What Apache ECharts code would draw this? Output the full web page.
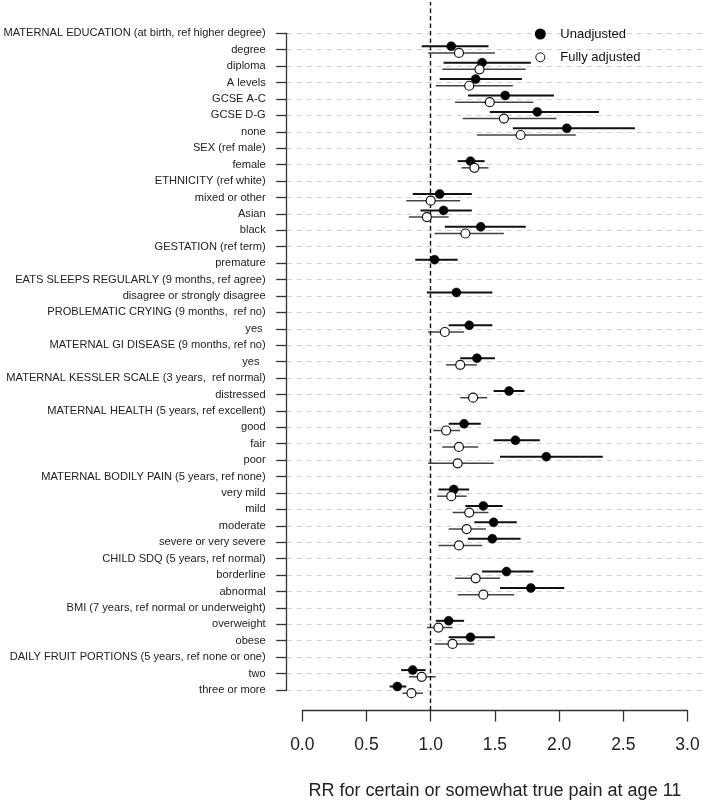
<!DOCTYPE html>
<html>
<head>
<meta charset="utf-8">
<script src="https://cdn.jsdelivr.net/npm/echarts@6/dist/echarts.min.js"></script>
<style>
html,body{margin:0;padding:0;background:#fff;}
#chart{width:703px;height:805px;}
</style>
</head>
<body>
<div id="chart"></div>
<script>
var categories = [
  'MATERNAL EDUCATION (at birth, ref higher degree)',
  'degree','diploma','A levels','GCSE A-C','GCSE D-G','none',
  'SEX (ref male)','female',
  'ETHNICITY (ref white)','mixed or other','Asian','black',
  'GESTATION (ref term)','premature',
  'EATS SLEEPS REGULARLY (9 months, ref agree)','disagree or strongly disagree',
  'PROBLEMATIC CRYING (9 months,  ref no)','yes ',
  'MATERNAL GI DISEASE (9 months, ref no)','yes  ',
  'MATERNAL KESSLER SCALE (3 years,  ref normal)','distressed',
  'MATERNAL HEALTH (5 years, ref excellent)','good','fair','poor',
  'MATERNAL BODILY PAIN (5 years, ref none)','very mild','mild','moderate','severe or very severe',
  'CHILD SDQ (5 years, ref normal)','borderline','abnormal',
  'BMI (7 years, ref normal or underweight)','overweight','obese',
  'DAILY FRUIT PORTIONS (5 years, ref none or one)','two','three or more'
];
// Unadjusted RR and CI (null = header row / no estimate)
var unadjRR = [null,1.16,1.40,1.35,1.58,1.83,2.06,null,1.31,null,1.07,1.10,1.39,null,1.03,null,1.20,null,1.30,null,1.36,null,1.61,null,1.26,1.66,1.90,null,1.18,1.41,1.49,1.48,null,1.59,1.78,null,1.14,1.31,null,0.86,0.74];
var unadjLo = [null,0.93,1.10,1.07,1.29,1.46,1.64,null,1.21,null,0.86,0.92,1.11,null,0.88,null,0.97,null,1.14,null,1.23,null,1.49,null,1.14,1.49,1.54,null,1.06,1.27,1.34,1.29,null,1.40,1.54,null,1.04,1.14,null,0.77,0.68];
var unadjHi = [null,1.45,1.78,1.71,1.96,2.31,2.59,null,1.42,null,1.32,1.32,1.74,null,1.21,null,1.48,null,1.48,null,1.50,null,1.73,null,1.39,1.85,2.34,null,1.30,1.56,1.67,1.70,null,1.80,2.04,null,1.26,1.50,null,0.96,0.81];
// Fully adjusted RR and CI
var adjRR = [null,1.22,1.38,1.30,1.46,1.57,1.70,null,1.34,null,1.00,0.97,1.27,null,null,null,null,null,1.11,null,1.23,null,1.33,null,1.12,1.22,1.21,null,1.16,1.30,1.28,1.22,null,1.35,1.41,null,1.06,1.17,null,0.93,0.85];
var adjLo = [null,0.98,1.09,1.04,1.19,1.25,1.36,null,1.24,null,0.81,0.83,1.03,null,null,null,null,null,0.98,null,1.12,null,1.23,null,1.02,1.09,0.98,null,1.05,1.17,1.14,1.06,null,1.19,1.21,null,0.97,1.03,null,0.83,0.78];
var adjHi = [null,1.50,1.74,1.64,1.80,1.98,2.13,null,1.45,null,1.23,1.14,1.57,null,null,null,null,null,1.26,null,1.36,null,1.44,null,1.23,1.37,1.49,null,1.28,1.45,1.43,1.40,null,1.54,1.65,null,1.17,1.34,null,1.04,0.94];
var xTicks = [0, 0.5, 1, 1.5, 2, 2.5, 3];
var refValue = 1;

function pts(rr){ return rr.map(function(v,i){ return v==null ? null : [v, i]; }).filter(Boolean); }
function cis(lo,hi){ var out=[]; lo.forEach(function(v,i){ if(v!=null) out.push([v,hi[i],i]); }); return out; }

var OFF_U = -3.5, OFF_A = 3.2;
function ciRender(off, color, width){
  return function(params, api){
    var y = api.value(2);
    var p1 = api.coord([api.value(0), y]);
    var p2 = api.coord([api.value(1), y]);
    return {type:'line', shape:{x1:p1[0], y1:p1[1]+off, x2:p2[0], y2:p2[1]+off},
      style:{stroke:color, lineWidth:width}};
  };
}

var font = 'Liberation Sans, Arial, Helvetica, sans-serif';
var chart = echarts.init(document.getElementById('chart'), null, {renderer:'canvas'});
var xMin = (286.7-302.3)/128.4, xMax = (703-302.3)/128.4;
chart.setOption({
  animation:false,
  backgroundColor:'#fff',
  textStyle:{fontFamily:font},
  grid:[
    {left:286.7, right:0, top:33.3, bottom:115, containLabel:false},
    {left:302.3, width:385.2, top:2, bottom:92.3, containLabel:false}
  ],
  legend:{
    orient:'vertical', left:534.8, top:27.5, padding:0, itemWidth:9, itemHeight:9, itemGap:10.3,
    icon:'circle',
    textStyle:{fontSize:13, color:'#111', fontFamily:font, padding:[0,0,0,10.5]},
    data:[{name:'Unadjusted'}, {name:'Fully adjusted', itemStyle:{color:'#fff', borderColor:'#111', borderWidth:1}}]
  },
  xAxis:[
    {type:'value', gridIndex:0, min:xMin, max:xMax, show:false, splitLine:{show:false}},
    {type:'value', gridIndex:1, min:0, max:3, interval:0.5,
     axisLine:{show:true, onZero:false, lineStyle:{color:'#333', width:1.3}},
     axisTick:{show:true, length:11, inside:false, lineStyle:{color:'#333', width:1.3}},
     axisLabel:{margin:26, fontSize:17.5, color:'#222', fontFamily:font,
       formatter:function(v){ return v.toFixed(1); }},
     splitLine:{show:false},
     name:'RR for certain or somewhat true pain at age 11', nameLocation:'middle', nameGap:71.5,
     nameTextStyle:{fontSize:18, color:'#222', fontFamily:font}}
  ],
  yAxis:[
    {type:'category', gridIndex:0, data:categories, inverse:true, boundaryGap:false,
     axisLine:{show:true, onZero:false, lineStyle:{color:'#333', width:1.3}},
     axisTick:{show:true, length:10.5, alignWithLabel:true, interval:0, lineStyle:{color:'#333', width:1.3}},
     axisLabel:{interval:0, margin:21, fontSize:11.1, color:'#222', fontFamily:font},
     splitLine:{show:true, interval:0, lineStyle:{color:'#d0d0d0', type:[5,5], width:1}}},
    {type:'value', gridIndex:1, min:0, max:1, show:false}
  ],
  series:[
    {name:'refline', type:'line', xAxisIndex:1, yAxisIndex:1, data:[], silent:true,
     markLine:{symbol:'none', silent:true, label:{show:false},
       lineStyle:{color:'#111', type:[4.5,3], width:1.4},
       data:[{xAxis:refValue}]}},
    {name:'ciU', type:'custom', xAxisIndex:0, yAxisIndex:0, data:cis(unadjLo,unadjHi),
     renderItem:ciRender(OFF_U,'#111',2), silent:true, z:3},
    {name:'ciA', type:'custom', xAxisIndex:0, yAxisIndex:0, data:cis(adjLo,adjHi),
     renderItem:ciRender(OFF_A,'#444',1.5), silent:true, z:3},
    {name:'Unadjusted', type:'scatter', xAxisIndex:0, yAxisIndex:0, data:pts(unadjRR),
     symbol:'circle', symbolSize:9, symbolOffset:[0,OFF_U],
     itemStyle:{color:'#000', borderColor:'#000', borderWidth:0.5, opacity:1}, z:5},
    {name:'Fully adjusted', type:'scatter', xAxisIndex:0, yAxisIndex:0, data:pts(adjRR),
     symbol:'circle', symbolSize:9, symbolOffset:[0,OFF_A],
     itemStyle:{color:'#fff', borderColor:'#111', borderWidth:1.2, opacity:1}, z:5}
  ]
});
</script>
</body>
</html>
